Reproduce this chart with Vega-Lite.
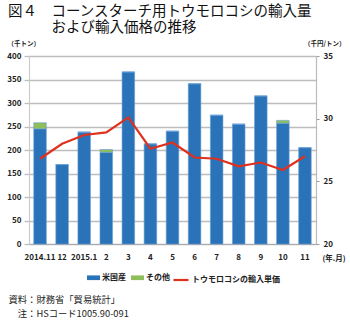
{
  "$schema": "https://vega.github.io/schema/vega-lite/v6.json",
  "width": 287,
  "height": 188,
  "autosize": {"type": "none"},
  "padding": {"left": 29, "top": 56, "right": 34, "bottom": 78},
  "background": "white",
  "title": {
    "text": ["図４\u3000コーンスターチ用トウモロコシの輸入量", "\u200b\u3000\u3000\u3000および輸入価格の推移"],
    "anchor": "start",
    "frame": "group",
    "dx": -21,
    "offset": 5,
    "font": "Noto Sans CJK JP",
    "fontSize": 14.5,
    "fontWeight": "normal",
    "lineHeight": 16,
    "color": "#111"
  },
  "config": {
    "view": {"stroke": null},
    "font": "Noto Sans CJK JP",
    "axis": {
      "labelFont": "Noto Sans CJK JP",
      "labelFontWeight": "bold",
      "labelFontSize": 8,
      "labelColor": "#222",
      "titleFont": "Noto Sans CJK JP",
      "titleFontWeight": "bold",
      "titleFontSize": 6.5,
      "titleColor": "#222"
    },
    "legend": {
      "labelFont": "Noto Sans CJK JP",
      "labelFontWeight": "bold",
      "labelFontSize": 8,
      "labelColor": "#222"
    }
  },
  "datasets": {
    "volume": [
      {"month": "2014.11", "origin": "米国産", "v": 245},
      {"month": "2014.11", "origin": "その他", "v": 13},
      {"month": "12", "origin": "米国産", "v": 169},
      {"month": "12", "origin": "その他", "v": 0},
      {"month": "2015.1", "origin": "米国産", "v": 238},
      {"month": "2015.1", "origin": "その他", "v": 0},
      {"month": "2", "origin": "米国産", "v": 195},
      {"month": "2", "origin": "その他", "v": 6},
      {"month": "3", "origin": "米国産", "v": 366},
      {"month": "3", "origin": "その他", "v": 0},
      {"month": "4", "origin": "米国産", "v": 213},
      {"month": "4", "origin": "その他", "v": 0},
      {"month": "5", "origin": "米国産", "v": 240},
      {"month": "5", "origin": "その他", "v": 0},
      {"month": "6", "origin": "米国産", "v": 341},
      {"month": "6", "origin": "その他", "v": 0},
      {"month": "7", "origin": "米国産", "v": 274},
      {"month": "7", "origin": "その他", "v": 0},
      {"month": "8", "origin": "米国産", "v": 255},
      {"month": "8", "origin": "その他", "v": 0},
      {"month": "9", "origin": "米国産", "v": 315},
      {"month": "9", "origin": "その他", "v": 0},
      {"month": "10", "origin": "米国産", "v": 257},
      {"month": "10", "origin": "その他", "v": 6},
      {"month": "11", "origin": "米国産", "v": 205},
      {"month": "11", "origin": "その他", "v": 0}
    ],
    "price": [
      {"month": "2014.11", "series": "トウモロコシの輸入単価", "p": 26.8},
      {"month": "12", "series": "トウモロコシの輸入単価", "p": 28.0},
      {"month": "2015.1", "series": "トウモロコシの輸入単価", "p": 28.7},
      {"month": "2", "series": "トウモロコシの輸入単価", "p": 28.9},
      {"month": "3", "series": "トウモロコシの輸入単価", "p": 30.1},
      {"month": "4", "series": "トウモロコシの輸入単価", "p": 27.6},
      {"month": "5", "series": "トウモロコシの輸入単価", "p": 28.1},
      {"month": "6", "series": "トウモロコシの輸入単価", "p": 26.9},
      {"month": "7", "series": "トウモロコシの輸入単価", "p": 26.8},
      {"month": "8", "series": "トウモロコシの輸入単価", "p": 26.2},
      {"month": "9", "series": "トウモロコシの輸入単価", "p": 26.5},
      {"month": "10", "series": "トウモロコシの輸入単価", "p": 25.9},
      {"month": "11", "series": "トウモロコシの輸入単価", "p": 27.0}
    ]
  },
  "layer": [
    {
      "data": {"name": "volume"},
      "mark": {"type": "bar", "stroke": "#6a9fd8", "strokeWidth": 0.6},
      "encoding": {
        "x": {
          "field": "month", "type": "nominal", "sort": null,
          "scale": {"paddingInner": 0.43, "paddingOuter": 0.215},
          "axis": {
            "labelAngle": 0, "labelPadding": 9, "ticks": false,
            "domainColor": "#aaa", "domainWidth": 1.2,
            "title": "(年.月)", "titleAnchor": "start", "titleAlign": "left",
            "titleBaseline": "middle", "titleX": 293, "titleY": 14,
            "titleFontSize": 7.5
          }
        },
        "y": {
          "field": "v", "type": "quantitative", "stack": "zero",
          "scale": {"domain": [0, 400]},
          "axis": {
            "values": [0, 50, 100, 150, 200, 250, 300, 350, 400],
            "grid": true, "gridColor": "#bdbdbd", "gridWidth": 1.3,
            "domainColor": "#ccc", "domainWidth": 1.2,
            "tickColor": "#bdbdbd", "tickSize": 5, "tickWidth": 1.3,
            "labelPadding": 3,
            "title": "（千トン）", "titleAngle": 0, "titleAlign": "left",
            "titleBaseline": "middle", "titleX": -22, "titleY": -13
          }
        },
        "fill": {
          "field": "origin", "type": "nominal",
          "scale": {"domain": ["米国産", "その他"], "range": ["#2a73b8", "#8fbf5a"]},
          "legend": {
            "title": null, "orient": "none", "direction": "horizontal",
            "legendX": 58, "legendY": 215,
            "symbolType": "M-1,-0.36H1V0.36H-1Z", "symbolSize": 169,
            "symbolStrokeWidth": 0, "labelOffset": 2, "columnPadding": 5
          }
        },
        "order": {"field": "origin", "sort": "descending"}
      }
    },
    {
      "data": {"name": "price"},
      "mark": {"type": "line", "color": "#e0301e", "strokeWidth": 2.2},
      "encoding": {
        "x": {
          "field": "month", "type": "nominal", "sort": null,
          "axis": {
            "orient": "bottom", "labels": false, "ticks": false, "domain": false,
            "title": ["資料：財務省「貿易統計」", "\u200b\u3000注：HSコード1005.90-091"],
            "titleAnchor": "start", "titleAlign": "left", "titleBaseline": "middle",
            "titleX": -21, "titleY": 55, "titleLineHeight": 14,
            "titleFontSize": 9.3, "titleFontWeight": "normal"
          }
        },
        "y": {
          "field": "p", "type": "quantitative",
          "scale": {"domain": [20, 35]},
          "axis": {
            "orient": "right", "values": [20, 25, 30, 35], "grid": false,
            "domainColor": "#bbb", "domainWidth": 1.2,
            "tickColor": "#999", "tickSize": 3,
            "labelPadding": 4,
            "title": "（千円/トン）", "titleAngle": 0, "titleAlign": "right",
            "titleBaseline": "middle", "titleX": 29, "titleY": -13
          }
        },
        "stroke": {
          "field": "series", "type": "nominal",
          "scale": {"range": ["#e0301e"]},
          "legend": {
            "title": null, "orient": "none", "direction": "horizontal",
            "legendX": 143, "legendY": 215,
            "symbolType": "stroke", "symbolSize": 225, "symbolStrokeWidth": 2.2,
            "labelOffset": 2
          }
        }
      }
    }
  ],
  "resolve": {"scale": {"y": "independent"}, "axis": {"x": "independent", "y": "independent"}}
}
